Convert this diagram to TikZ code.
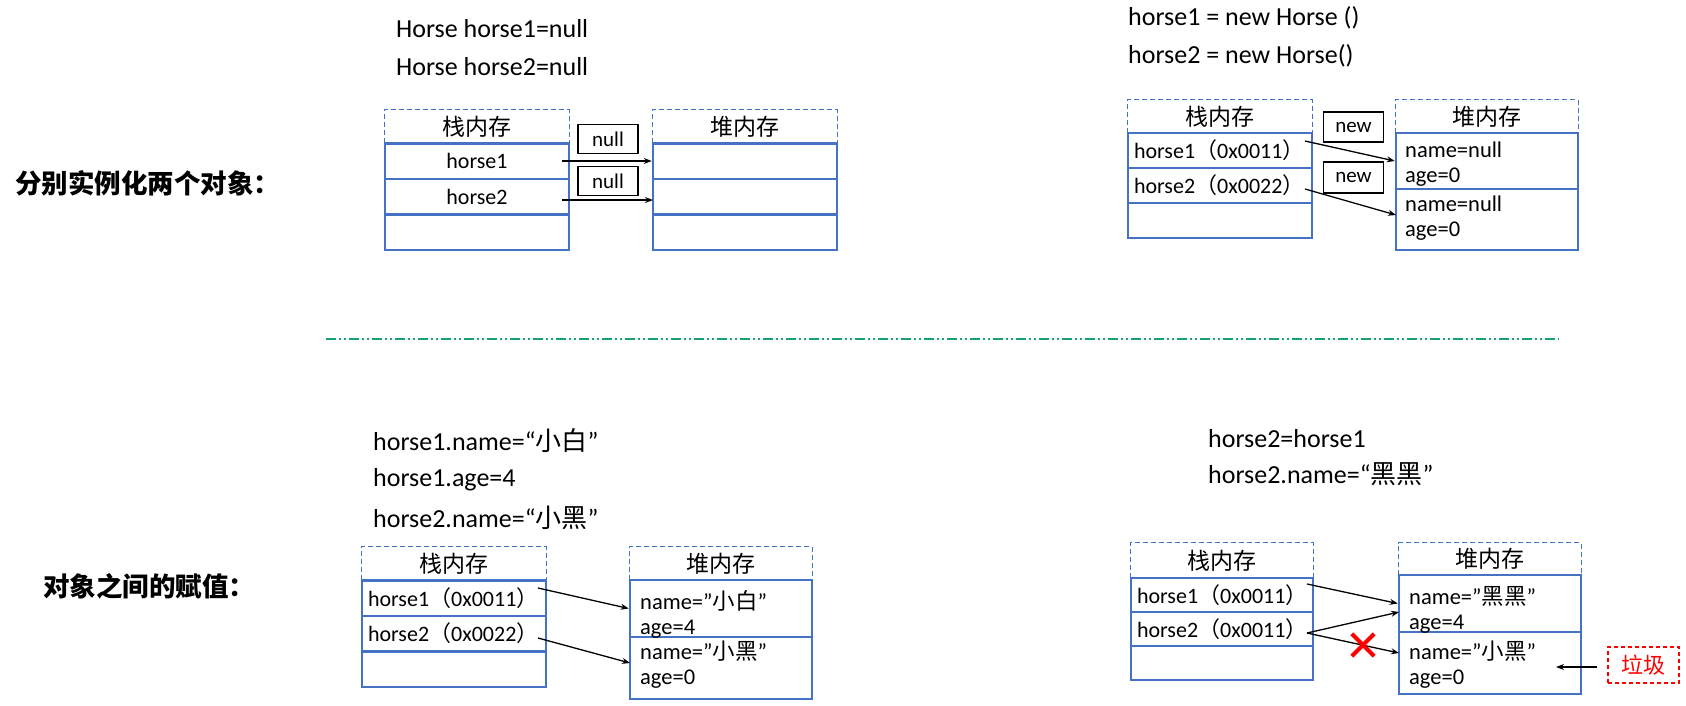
\documentclass[tikz,border=0pt]{standalone}
\usepackage{fontspec}
\setmainfont{Carlito}
\newfontfamily\cjk{Noto Sans CJK SC}
\usetikzlibrary{arrows.meta}
\definecolor{memblue}{RGB}{68,114,196}
\definecolor{sepgreen}{RGB}{22,160,120}
\tikzset{cell/.style = {draw = memblue, line width = 2.5pt, minimum width = 184pt, minimum height = 35.5pt, inner sep = 0, font = \fontsize{22}{25}\selectfont}}
\tikzset{lcell/.style = {cell, text width = 172pt, align = left, inner xsep = 6pt}}
\tikzset{head/.style = {minimum width = 184pt, minimum height = 33pt, inner sep = 0, font = \cjk\fontsize{23}{25}\selectfont}}
\tikzset{hdash/.style = {memblue, line width = 1.2pt, dash pattern = on 5pt off 3pt}}
\tikzset{tag/.style = {draw, line width = 1.3pt, minimum width = 60pt, minimum height = 29pt, inner sep = 0, font = \fontsize{21}{25}\selectfont}}
\tikzset{ptr/.style = {line width = 1.3pt, -{Stealth[length = 8pt, width = 6pt]}}}
\tikzset{code/.style = {anchor = west, inner sep = 0, font = \fontsize{26}{30}\selectfont}}
\tikzset{val/.style = {anchor = west, inner sep = 0, align = left, font = \fontsize{22.5}{25}\selectfont}}
\tikzset{note/.style = {anchor = west, inner sep = 0, font = \cjk\bfseries\fontsize{26.5}{30}\selectfont}}
\tikzset{trash/.style = {draw = red, text = red, line width = 1.3pt, dash pattern = on 4pt off 3pt, minimum width = 71pt, minimum height = 36pt, inner sep = 0, font = \cjk\fontsize{22}{25}\selectfont}}
\tikzset{xmark/.style = {red, line width = 4pt}}

\begin{document}
\begin{tikzpicture}[x = 1pt, y = -1pt]
      \useasboundingbox (0, 0) rectangle (1686, 705);

      \node [note] (lab1) at (15, 183) {分别实例化两个对象：};
      \node [note] (lab2) at (43, 586) {对象之间的赋值：};

      \draw [sepgreen, line width = 2pt, dash pattern = on 10pt off 3pt on 2pt off 3pt on 2pt off 3pt] (326, 339) -- (1559, 339);

      \node [code] (tl-c1) at (396, 29) {Horse horse1=null};
      \node [code] (tl-c2) at (396, 67) {Horse horse2=null};

      \node [head] (tl-sh) at (477, 126.5) {栈内存};
      \draw [hdash] (tl-sh.south west) -- (tl-sh.north west) -- (tl-sh.north east) -- (tl-sh.south east);
      \node [cell] (tl-s1) at (477, 161) {horse1};
      \node [cell] (tl-s2) at (477, 196.5) {horse2};
      \node [cell] (tl-s3) at (477, 232) {};

      \node [head] (tl-hh) at (745, 126.5) {堆内存};
      \draw [hdash] (tl-hh.south west) -- (tl-hh.north west) -- (tl-hh.north east) -- (tl-hh.south east);
      \node [cell] (tl-h1) at (745, 161) {};
      \node [cell] (tl-h2) at (745, 196.5) {};
      \node [cell] (tl-h3) at (745, 232) {};

      \node [tag] (tl-t1) at (608, 139) {null};
      \node [tag] (tl-t2) at (608, 181) {null};
      \coordinate (tl-p1) at (562, 161);
      \coordinate (tl-p2) at (562, 200);
      \coordinate (tl-q2) at (653, 200);
      \draw [ptr] (tl-p1) -- (tl-h1.west);
      \draw [ptr] (tl-p2) -- (tl-q2);

      \node [code] (tr-c1) at (1128, 18) {horse1 = new Horse ()};
      \node [code] (tr-c2) at (1128, 56) {horse2 = new Horse()};

      \node [head] (tr-sh) at (1220, 116.5) {栈内存};
      \draw [hdash] (tr-sh.south west) -- (tr-sh.north west) -- (tr-sh.north east) -- (tr-sh.south east);
      \node [lcell, minimum height = 35pt] (tr-s1) at (1220, 150.5) {horse1{\cjk（}0x0011{\cjk）}};
      \node [lcell, minimum height = 35pt] (tr-s2) at (1220, 185.5) {horse2{\cjk（}0x0022{\cjk）}};
      \node [lcell, minimum height = 35pt] (tr-s3) at (1220, 220.5) {};

      \node [head, minimum width = 182pt] (tr-hh) at (1487, 116.5) {堆内存};
      \draw [hdash] (tr-hh.south west) -- (tr-hh.north west) -- (tr-hh.north east) -- (tr-hh.south east);
      \node [cell, minimum width = 182pt, minimum height = 56pt] (tr-h1) at (1487, 161) {};
      \node [cell, minimum width = 182pt, minimum height = 61pt] (tr-h2) at (1487, 219.5) {};
      \node [val] (tr-v1) at (1405, 164.5) {name=null\\age=0};
      \node [val] (tr-v2) at (1405, 218.5) {name=null\\age=0};

      \node [tag, minimum height = 30pt] (tr-t1) at (1353.5, 127) {new};
      \node [tag, minimum height = 31pt] (tr-t2) at (1353.5, 177.5) {new};
      \coordinate (tr-p1) at (1305, 141);
      \coordinate (tr-p2) at (1305, 189);
      \coordinate (tr-q2) at (1396, 215);
      \draw [ptr] (tr-p1) -- (tr-h1.west);
      \draw [ptr] (tr-p2) -- (tr-q2);

      \node [code] (bl-c1) at (373, 441) {horse1.name=“{\cjk 小白}”};
      \node [code] (bl-c2) at (373, 480) {horse1.age=4};
      \node [code] (bl-c3) at (373, 518) {horse2.name=“{\cjk 小黑}”};

      \node [head] (bl-sh) at (454, 563.5) {栈内存};
      \draw [hdash] (bl-sh.south west) -- (bl-sh.north west) -- (bl-sh.north east) -- (bl-sh.south east);
      \node [lcell] (bl-s1) at (454, 598) {horse1{\cjk（}0x0011{\cjk）}};
      \node [lcell] (bl-s2) at (454, 633.5) {horse2{\cjk（}0x0022{\cjk）}};
      \node [lcell] (bl-s3) at (454, 669) {};

      \node [head, minimum width = 182pt] (bl-hh) at (721, 563.5) {堆内存};
      \draw [hdash] (bl-hh.south west) -- (bl-hh.north west) -- (bl-hh.north east) -- (bl-hh.south east);
      \node [cell, minimum width = 182pt, minimum height = 57pt] (bl-h1) at (721, 608.5) {};
      \node [cell, minimum width = 182pt, minimum height = 62pt] (bl-h2) at (721, 668) {};
      \node [val] (bl-v1) at (640, 614.5) {name=”{\cjk 小白}”\\age=4};
      \node [val] (bl-v2) at (640, 664.5) {name=”{\cjk 小黑}”\\age=0};

      \coordinate (bl-p1) at (538, 588);
      \coordinate (bl-p2) at (538, 638);
      \coordinate (bl-q2) at (630, 663);
      \draw [ptr] (bl-p1) -- (bl-h1.west);
      \draw [ptr] (bl-p2) -- (bl-q2);

      \node [code] (br-c1) at (1208, 439) {horse2=horse1};
      \node [code] (br-c2) at (1208, 474) {horse2.name=“{\cjk 黑黑}”};

      \node [head, minimum width = 182pt, minimum height = 35pt] (br-sh) at (1222, 560.5) {栈内存};
      \draw [hdash] (br-sh.south west) -- (br-sh.north west) -- (br-sh.north east) -- (br-sh.south east);
      \node [lcell, minimum width = 182pt, text width = 170pt, minimum height = 34pt] (br-s1) at (1222, 595) {horse1{\cjk（}0x0011{\cjk）}};
      \node [lcell, minimum width = 182pt, text width = 170pt, minimum height = 34pt] (br-s2) at (1222, 629) {horse2{\cjk（}0x0011{\cjk）}};
      \node [lcell, minimum width = 182pt, text width = 170pt, minimum height = 34pt] (br-s3) at (1222, 663) {};

      \node [head, minimum width = 182pt, minimum height = 32pt] (br-hh) at (1490, 559) {堆内存};
      \draw [hdash] (br-hh.south west) -- (br-hh.north west) -- (br-hh.north east) -- (br-hh.south east);
      \node [cell, minimum width = 182pt, minimum height = 57pt] (br-h1) at (1490, 603.5) {};
      \node [cell, minimum width = 182pt, minimum height = 62pt] (br-h2) at (1490, 663) {};
      \node [val] (br-v1) at (1409, 609.5) {name=”{\cjk 黑黑}”\\age=4};
      \node [val] (br-v2) at (1409, 664.5) {name=”{\cjk 小黑}”\\age=0};

      \coordinate (br-p1) at (1307, 584);
      \coordinate (br-p2) at (1307, 633);
      \coordinate (br-q2) at (1399, 612);
      \coordinate (br-q3) at (1399, 653);
      \draw [ptr] (br-p1) -- (br-h1.west);
      \draw [ptr] (br-p2) -- (br-q2);
      \draw [ptr] (br-p2) -- (br-q3);

      \node [minimum size = 22pt, inner sep = 0] (br-x) at (1363, 645) {};
      \draw [xmark] (br-x.north west) -- (br-x.south east) (br-x.south west) -- (br-x.north east);

      \node [trash] (br-r) at (1643.5, 665) {垃圾};
      \coordinate (br-g) at (1556, 667);
      \draw [ptr, shorten <= 10pt] (br-r.west |- br-g) -- (br-g);
    \end{tikzpicture}
\end{document}
